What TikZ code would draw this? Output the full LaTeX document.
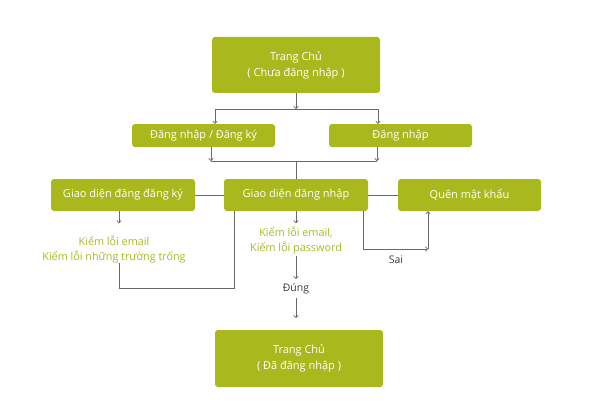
\documentclass[tikz,border=0pt]{standalone}
\usepackage{fontspec}
\setmainfont{Open Sans}
\usetikzlibrary{arrows.meta}
\definecolor{boxgreen}{RGB}{169,185,29}
\definecolor{linegray}{RGB}{105,105,105}
\definecolor{labelgray}{RGB}{60,60,60}
\begin{document}
\begin{tikzpicture}[x=1pt,y=-1pt,
  box/.style={fill=boxgreen, rounded corners=3pt, text=white, align=center, inner sep=0pt,
    font=\fontsize{11}{16}\selectfont},
  note/.style={text=boxgreen, align=center, inner sep=0pt, font=\fontsize{10.8}{15}\selectfont},
  lbl/.style={text=labelgray, inner sep=0pt, font=\fontsize{10.5}{12}\selectfont},
  conn/.style={draw=linegray, line width=0.7pt},
  arr/.style={conn, -{To[length=3pt,width=5pt]}}]
\useasboundingbox (0,0) rectangle (599,417);
% boxes
\node[box, minimum width=168pt, minimum height=56pt] (top) at (296,65) {Trang Chủ\\( Chưa đăng nhập )};
\node[box, minimum width=143pt, minimum height=23pt] (reg) at (203.5,135.5) {Đăng nhập / Đăng ký};
\node[box, minimum width=143pt, minimum height=23pt] (login) at (400.5,135.5) {Đăng nhập};
\node[box, minimum width=144pt, minimum height=32pt] (gdk) at (123,195) {Giao diện đăng đăng ký};
\node[box, minimum width=144pt, minimum height=32pt] (gdn) at (296,195) {Giao diện đăng nhập};
\node[box, minimum width=143pt, minimum height=32pt] (quen) at (469.5,195) {Quên mật khẩu};
\node[box, minimum width=168pt, minimum height=57pt] (home) at (299,358.5) {Trang Chủ\\( Đã đăng nhập )};
% notes
\node[note] (chk1) at (114,249.5) {Kiểm lỗi email\\Kiểm lỗi những trường trống};
\node[note] (chk2) at (296,240.5) {Kiểm lỗi email,\\Kiểm lỗi password};
\node[lbl] (dung) at (296,289) {Đúng};
\node[lbl] (sai) at (396,260) {Sai};
% junction coordinates
\coordinate (j1) at (296,109);
\coordinate (j1l) at (215,109);
\coordinate (j1r) at (378,109);
\coordinate (j2) at (296,161);
\coordinate (j2l) at (211,161);
\coordinate (j2r) at (377,161);
\coordinate (c1) at (119,288);
\coordinate (c2) at (234,288);
\coordinate (s1) at (363,249);
\coordinate (s2) at (428,249);
% connectors
\draw[arr] (top.south) -- (j1);
\draw[conn] (j1l) -- (j1r);
\draw[arr] (j1l) -- (j1l |- reg.north);
\draw[arr] (j1r) -- (j1r |- login.north);
\draw[arr] (j2l |- reg.south) -- (j2l);
\draw[arr] (j2r |- login.south) -- (j2r);
\draw[conn] (j2l) -- (j2r);
\draw[conn] (j2) -- (gdn.north);
\draw[conn] (gdk.east) -- (gdn.west);
\draw[conn] (gdn.east) -- (quen.west);
\draw[arr] (gdk.south -| c1) -- ++(0,12);
\draw[conn] (c1 |- chk1.south) -- (c1) -- (c2) -- (c2 |- gdn.south);
\draw[arr] (gdn.south) -- ++(0,12);
\draw[arr] (chk2.south) ++(0,2) -- (296,279);
\draw[arr] (dung.south) ++(0,4) -- (296,318);
\draw[arr] (s1 |- gdn.south) -- (s1) -- (s2);
\draw[arr] (s2) -- (s2 |- quen.south);
\end{tikzpicture}
\end{document}
